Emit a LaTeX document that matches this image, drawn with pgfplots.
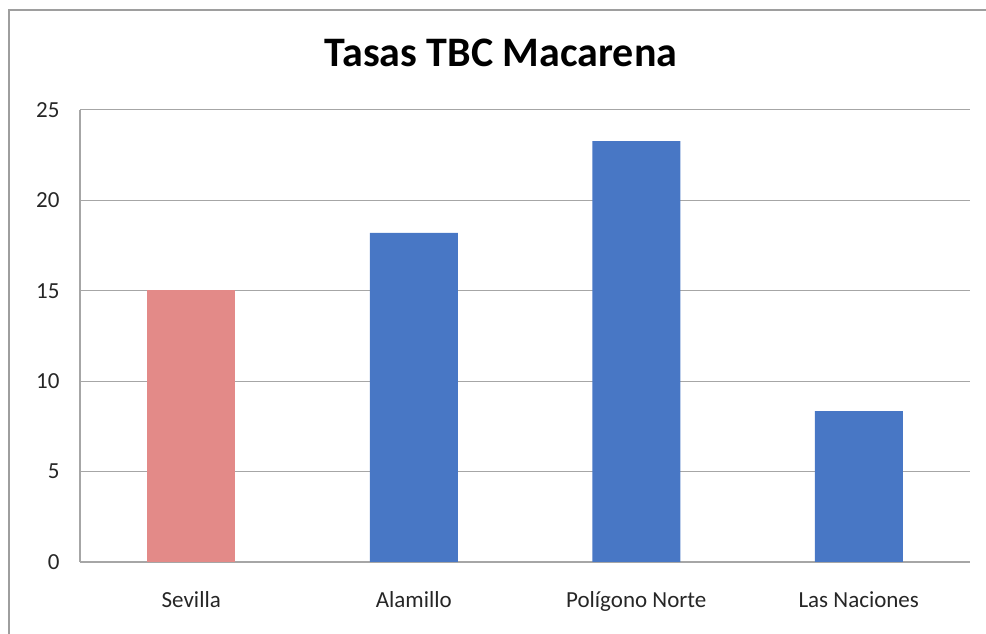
\documentclass[border=0pt]{standalone}
\usepackage{fontspec}
\setmainfont{Carlito}
\usepackage{pgfplots}
\pgfplotsset{compat=1.18}
\definecolor{BarRed}{HTML}{E38A88}
\definecolor{BarBlue}{HTML}{4877C5}
\definecolor{GridGray}{HTML}{A6A6A6}
\definecolor{FrameGray}{HTML}{9E9E9E}

\begin{document}
\begin{tikzpicture}[x=1pt,y=1pt]
  % page and outer frame (clipped on right and bottom as in the original)
  \path[use as bounding box] (0,0) rectangle (986,634);
  \draw[FrameGray, line width=1.4pt] (9,0) -- (9,624) -- (990,624);
  \node[anchor=base, font=\bfseries\fontsize{42}{48}\selectfont] at (501,567) {Tasas TBC Macarena};

  \begin{axis}[
      at={(80pt,72pt)}, anchor=south west,
      scale only axis,
      width=890pt, height=452pt,
      xmin=-0.5, xmax=3.5,
      ymin=0, ymax=25,
      xtick={0,1,2,3},
      xticklabels={Sevilla, Alamillo, Polígono Norte, Las Naciones},
      ytick={0,5,10,15,20,25},
      ymajorgrids,
      grid style={GridGray, line width=1pt},
      major tick length=0pt,
      axis x line*=bottom,
      axis y line*=left,
      axis line style={GridGray, line width=1.2pt, -},
      tick label style={font=\fontsize{23}{27}\selectfont, text=black!85},
      /pgf/number format/assume math mode=true,
      yticklabel style={xshift=-17pt},
      xticklabel style={yshift=-26pt},
      ybar, bar shift=0pt, bar width=88pt,
    ]
    \addplot[fill=BarRed, draw=none] coordinates {(0,15.05)};
    \addplot[fill=BarBlue, draw=none] coordinates {(1,18.2) (2,23.28) (3,8.35)};
  \end{axis}
\end{tikzpicture}
\end{document}
